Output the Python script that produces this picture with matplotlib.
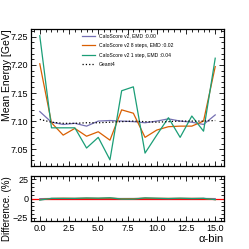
import numpy as np
import matplotlib
matplotlib.use('Agg')
import matplotlib.pyplot as plt
from matplotlib.ticker import AutoMinorLocator

plt.rcParams['font.family'] = ['Liberation Sans', 'DejaVu Sans']

bins = np.arange(16)
geant4 = np.array([7.103, 7.098, 7.096, 7.096, 7.097, 7.097, 7.098, 7.099,
                   7.100, 7.099, 7.098, 7.099, 7.100, 7.100, 7.100, 7.101])
calo_v2 = np.array([7.117, 7.098, 7.094, 7.096, 7.091, 7.100, 7.101, 7.100,
                    7.099, 7.097, 7.100, 7.104, 7.100, 7.098, 7.094, 7.111])
calo_8step = np.array([7.202, 7.097, 7.075, 7.087, 7.073, 7.081, 7.066, 7.120,
                       7.114, 7.071, 7.084, 7.090, 7.091, 7.091, 7.100, 7.197])
calo_1step = np.array([7.252, 7.088, 7.088, 7.088, 7.052, 7.071, 7.031, 7.154,
                       7.161, 7.043, 7.075, 7.106, 7.071, 7.109, 7.082, 7.212])

names = ['CaloScore v2, EMD :0.00', 'CaloScore v2 8 steps, EMD :0.02',
         'CaloScore v2 1 step, EMD :0.04']
colors = ['#7570b3', '#d95f02', '#1b9e77']
models = [calo_v2, calo_8step, calo_1step]

fig = plt.figure(figsize=(2.49, 2.49), dpi=100)
ax0 = fig.add_axes([31/249, 1 - 166/249, 193/249, 137/249])
ax1 = fig.add_axes([31/249, 1 - 221/249, 193/249, 45/249], sharex=ax0)

for vals, c, n in zip(models, colors, names):
    ax0.plot(bins, vals, color=c, lw=0.9, label=n)
ax0.plot(bins, geant4, color='k', ls=':', lw=0.9, label='Geant4')
ax0.set_ylim(7.02, 7.264)
ax0.set_xlim(-0.75, 15.75)
ax0.set_yticks([7.05, 7.10, 7.15, 7.20, 7.25])
ax0.set_ylabel('Mean Energy [GeV]', fontsize=7.5, loc='top')
ax0.yaxis.set_label_coords(-0.1, 1)
ax0.legend(loc='upper center', frameon=False, fontsize=3.6,
           handlelength=2.5, labelspacing=0.9)
plt.setp(ax0.get_xticklabels(), visible=False)

ax1.axhline(0, color='r', lw=0.9)
for vals, c in zip(models, colors):
    ax1.plot(bins, 100 * (geant4 - vals) / geant4, color=c, lw=0.9)
ax1.set_ylim(-29, 29)
ax1.set_yticks([-25, 0, 25])
ax1.set_ylabel('Difference. (%)', fontsize=7, loc='top')
ax1.yaxis.set_label_coords(-0.1, 1)
ax1.set_xlabel('α-bin', fontsize=8, loc='right', labelpad=1)
ax1.set_xticks([0, 2.5, 5, 7.5, 10, 12.5, 15])

for ax in (ax0, ax1):
    ax.xaxis.set_minor_locator(AutoMinorLocator(5))
    ax.yaxis.set_minor_locator(AutoMinorLocator(5))
    ax.tick_params(which='both', direction='in', top=True, right=True,
                   labelsize=6.5, pad=2, width=0.6)
    ax.tick_params(which='major', length=3.5)
    ax.tick_params(which='minor', length=2)
    for s in ax.spines.values():
        s.set_linewidth(0.9)

fig.savefig('out.png', dpi=100)
